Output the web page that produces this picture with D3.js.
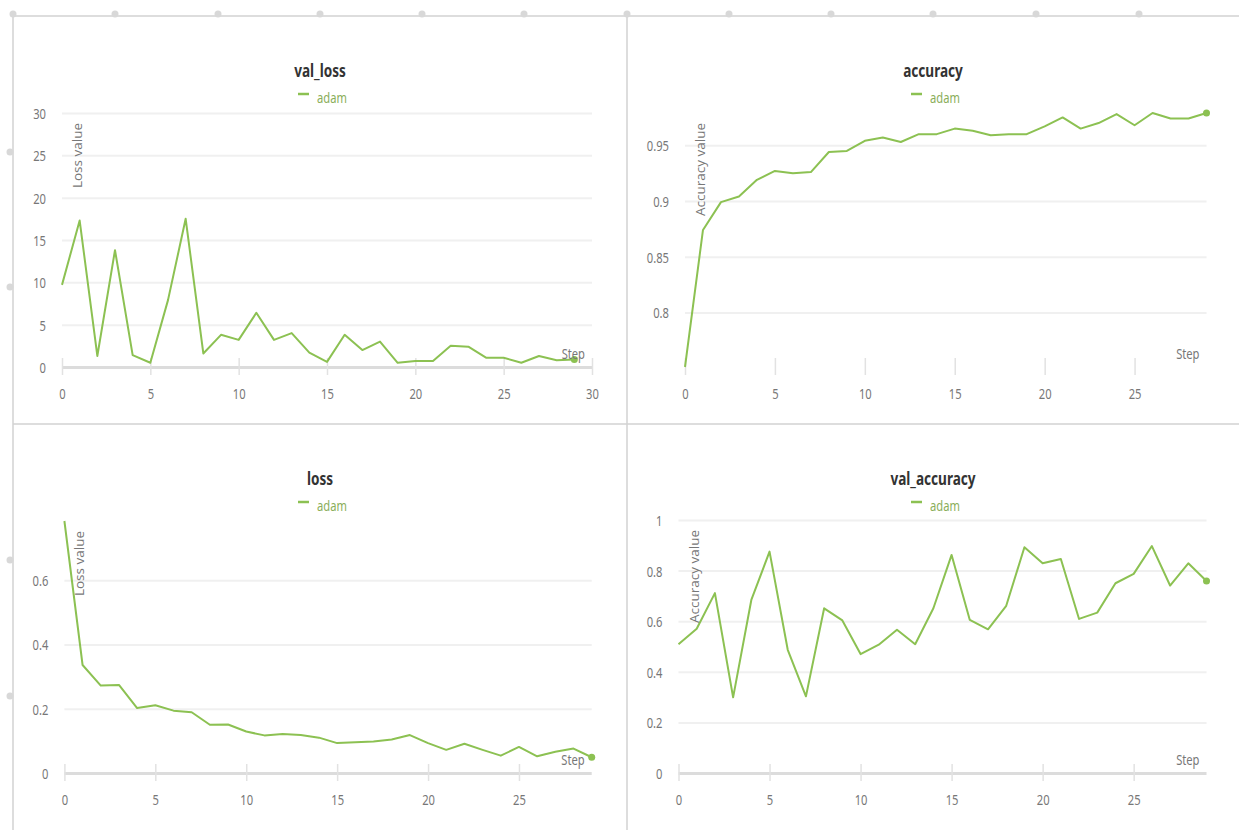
<!DOCTYPE html>
<html><head><meta charset="utf-8">
<script src="https://cdn.jsdelivr.net/npm/d3@7"></script>
<style>body{margin:0;background:#fff}svg{display:block}</style>
</head><body><svg id="c" width="1239" height="830"></svg>
<script>
// ---- data ----
const steps = [0,1,2,3,4,5,6,7,8,9,10,11,12,13,14,15,16,17,18,19,20,21,22,23,24,25,26,27,28,29];
const valLoss = [9.7,17.3,1.3,13.8,1.4,0.5,7.9,17.5,1.6,3.8,3.2,6.4,3.2,4.0,1.7,0.6,3.8,2.0,3.0,0.5,0.7,0.7,2.5,2.4,1.1,1.1,0.5,1.3,0.8,0.9];
const accuracy = [0.751,0.874,0.899,0.904,0.919,0.927,0.925,0.926,0.944,0.945,0.954,0.957,0.953,0.960,0.960,0.965,0.963,0.959,0.960,0.960,0.967,0.975,0.965,0.970,0.978,0.968,0.979,0.974,0.974,0.979];
const loss = [0.784,0.336,0.272,0.274,0.202,0.211,0.194,0.189,0.150,0.151,0.129,0.117,0.121,0.118,0.110,0.093,0.096,0.098,0.104,0.118,0.093,0.072,0.091,0.072,0.054,0.081,0.052,0.066,0.076,0.049];
const valAccuracy = [0.509,0.570,0.711,0.299,0.684,0.875,0.487,0.303,0.651,0.603,0.470,0.507,0.566,0.509,0.651,0.862,0.605,0.568,0.661,0.892,0.829,0.846,0.609,0.634,0.750,0.787,0.897,0.741,0.829,0.759];
const seriesName = "adam";
const titles = ["val_loss","accuracy","loss","val_accuracy"];
const yAxisLabels = ["Loss value","Accuracy value","Loss value","Accuracy value"];
const xAxisLabel = "Step";
const valLossYTicks = [0,5,10,15,20,25,30];
const valLossXTicks = [0,5,10,15,20,25,30];
const accYTicks = [0.8,0.85,0.9,0.95];
const lossYTicks = [0,0.2,0.4,0.6];
const valAccYTicks = [0,0.2,0.4,0.6,0.8,1];
const stepTicks = [0,5,10,15,20,25];

// ---- style ----
const GREEN = "#8cc152";
const LEG_TXT = "#8aae5a";
const SX = 0.8; // condensed text
const svg = d3.select("#c");

// frame
const frame = svg.append("g").attr("stroke","#d2d2d2").attr("stroke-width",1.5);
frame.append("line").attr("x1",13).attr("x2",1239).attr("y1",16).attr("y2",16);
frame.append("line").attr("x1",13).attr("x2",13).attr("y1",16).attr("y2",830);
frame.append("line").attr("x1",627).attr("x2",627).attr("y1",16).attr("y2",830);
frame.append("line").attr("x1",13).attr("x2",1239).attr("y1",424).attr("y2",424);
[13,115,218,320,422,524,627,729,831,933,1036,1139].forEach(x=>
  svg.append("circle").attr("cx",x).attr("cy",14).attr("r",3.5).attr("fill","#d8d8d8"));
[152,287,560,696].forEach(y=>
  svg.append("circle").attr("cx",10).attr("cy",y).attr("r",3.5).attr("fill","#d8d8d8"));

function ctext(g, x, y, str, o){
  return g.append("g").attr("transform",`translate(${x},${y}) scale(${SX},1)`)
    .append("text").attr("text-anchor",o.anchor||"middle").attr("dominant-baseline","central")
    .attr("font-family","'Noto Sans', sans-serif").attr("font-size",o.size)
    .attr("font-weight",o.weight||"normal").attr("fill",o.fill).text(str);
}

const fmt = d => String(+d.toFixed(4));

const panels = [
  {vals:valLoss, cx:320, top:16, l:62, r:592, t:113, b:367, xd:[0,30], xt:valLossXTicks, yd:[0,30], yt:valLossYTicks},
  {vals:accuracy, cx:933, top:16, l:685, r:1206.5, t:113, b:367, xd:[0,29], xt:stepTicks, yd:d3.extent(accuracy), yt:accYTicks},
  {vals:loss, cx:320, top:424, l:64.4, r:591.7, t:521, b:773, xd:[0,29], xt:stepTicks, yd:[0,d3.max(loss)], yt:lossYTicks},
  {vals:valAccuracy, cx:933, top:424, l:678.5, r:1206.5, t:520, b:773, xd:[0,29], xt:stepTicks, yd:[0,1], yt:valAccYTicks}
];

panels.forEach((p,i)=>{
  const g = svg.append("g");
  const x = d3.scaleLinear().domain(p.xd).range([p.l,p.r]);
  const y = d3.scaleLinear().domain(p.yd).range([p.b,p.t]);
  const w = p.r - p.l;

  // y grid + labels
  const ya = g.append("g").attr("transform",`translate(${p.l},0)`)
    .call(d3.axisLeft(y).tickValues(p.yt).tickSize(-w).tickFormat(fmt));
  ya.select(".domain").remove();
  ya.selectAll(".tick line").attr("stroke",d=>d===0?"#dcdcdc":"#f0f0f0").attr("stroke-width",d=>d===0?3:2);
  ya.selectAll(".tick text").attr("x",-16/SX).attr("dy",null).attr("dominant-baseline","central")
    .attr("transform",`scale(${SX},1)`).attr("font-family","'Noto Sans', sans-serif")
    .attr("font-size",14).attr("fill","#777");

  // x ticks + labels
  const xa = g.append("g").attr("transform",`translate(0,${p.b})`)
    .call(d3.axisBottom(x).tickValues(p.xt).tickSize(8).tickFormat(fmt));
  xa.select(".domain").remove();
  xa.selectAll(".tick line").attr("y1",-9).attr("y2",8).attr("stroke","#e2e2e2").attr("stroke-width",1.5);
  xa.selectAll(".tick text").attr("y",26.5).attr("dy",null).attr("dominant-baseline","central")
    .attr("transform",`scale(${SX},1)`).attr("font-family","'Noto Sans', sans-serif")
    .attr("font-size",14).attr("fill","#777");

  // line
  const line = d3.line().x((d,j)=>x(steps[j])).y(d=>y(d));
  g.append("path").datum(p.vals).attr("d",line).attr("fill","none")
    .attr("stroke",GREEN).attr("stroke-width",2).attr("stroke-linejoin","round");
  const last = p.vals.length-1;
  g.append("circle").attr("cx",x(steps[last])).attr("cy",y(p.vals[last])).attr("r",3.5).attr("fill",GREEN);

  // title & legend
  ctext(g, p.cx, p.top+55, titles[i], {size:17, weight:"bold", fill:"#333"});
  g.append("line").attr("x1",p.cx-22).attr("x2",p.cx-11).attr("y1",p.top+78).attr("y2",p.top+78)
    .attr("stroke",GREEN).attr("stroke-width",2.5);
  ctext(g, p.cx-3, p.top+81, seriesName, {size:14, anchor:"start", fill:LEG_TXT});

  // axis labels
  g.append("text").attr("transform",`translate(${p.l+15},${p.t+10}) rotate(-90)`)
    .attr("text-anchor","end").attr("dominant-baseline","central")
    .attr("font-family","'Open Sans', sans-serif").attr("font-size",13.5).attr("fill","#777")
    .text(yAxisLabels[i]);
  ctext(g, p.r-7, p.b-14, xAxisLabel, {size:14, anchor:"end", fill:"#777"});
});
</script></body></html>
